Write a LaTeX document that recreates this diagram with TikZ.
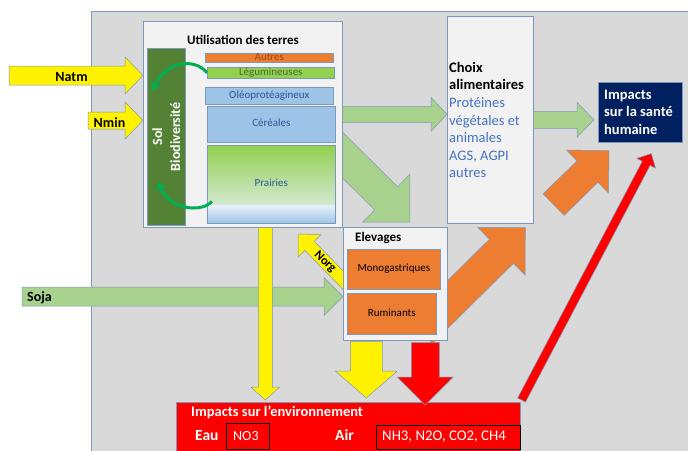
\documentclass[tikz,border=0pt]{standalone}
\usepackage{fontspec}
\setmainfont{Carlito}
\usepackage{tikz}
\usetikzlibrary{calc, arrows.meta}
\pgfdeclarelayer{fond}
\pgfdeclarelayer{dessous}
\pgfsetlayers{fond,dessous,main}

\definecolor{gris}{HTML}{D9D9D9}
\definecolor{cadre}{HTML}{7C98BA}
\definecolor{boite}{HTML}{F2F2F2}
\definecolor{sol}{HTML}{548235}
\definecolor{orangeo}{HTML}{ED7D31}
\definecolor{vertclair}{HTML}{92D050}
\definecolor{bleuclair}{HTML}{9DC3E6}
\definecolor{vertfleche}{HTML}{A9D18E}
\definecolor{marine}{HTML}{002060}
\definecolor{texteb}{HTML}{4472C4}
\definecolor{vertcourbe}{HTML}{00B050}
\definecolor{txtor}{HTML}{A0461A}
\definecolor{txtvert}{HTML}{4A6A3A}
\definecolor{txtbleu}{HTML}{2F5597}

\tikzset{
  case/.style={draw=cadre, line width=0.6pt, inner sep=0pt, anchor=north west},
  culture/.style={case, font=\fontsize{11}{12}\selectfont, text height=7pt, text depth=2pt},
  titre/.style={font=\fontsize{13}{15}\selectfont\bfseries, inner sep=0pt},
  etiq/.style={font=\fontsize{14}{16}\selectfont\bfseries, inner sep=0pt},
  texte/.style={font=\fontsize{14.5}{17.6}\selectfont, inner sep=0pt, align=left},
  fl/.style={draw=cadre, line width=0.5pt},
  jaune/.style={fl, fill=yellow},
  vertf/.style={fl, fill=vertfleche},
  orf/.style={fl, fill=orangeo},
  rougef/.style={fl, fill=red},
  courbe/.style={draw=vertcourbe, line width=3pt, -{Stealth[length=9pt, width=11pt]}}
}

% grosse fleche : [style]{depart}{pointe}{demi corps}{demi tete}{longueur tete}
\newcommand{\fleche}[6][]{%
  \coordinate (fq) at ($(#3)!#6!(#2)$);
  \draw[#1] ($(#2)!#4!90:(#3)$) -- ($(fq)!#4!90:(#3)$) -- ($(fq)!#5!90:(#3)$) -- (#3)
    -- ($(fq)!#5!-90:(#3)$) -- ($(fq)!#4!-90:(#3)$) -- ($(#2)!#4!-90:(#3)$) -- cycle;}

\begin{document}
\begin{tikzpicture}[x=1pt, y=-1pt]
 \useasboundingbox (0,0) rectangle (688,450);
 \begin{pgfonlayer}{fond}
  \fill[white] (0,0) rectangle (688,450);
  \draw[fill=gris, draw=cadre, line width=0.6pt] (91,11) rectangle (690,452);
 \end{pgfonlayer}

 % utilisation des terres
 \node[case, fill=boite, minimum width=199pt, minimum height=206pt] (util) at (143,21) {};
 \node[titre, anchor=base] (t-util) at (243,44) {Utilisation des terres};
 \node[case, fill=sol, minimum width=38pt, minimum height=177pt] (sol) at (147,48) {};
 \node[etiq, text=white, rotate=90, align=center, font=\fontsize{14}{18}\selectfont\bfseries] (t-sol) at (sol.center) {Sol\\Biodiversité};
 \node[culture, fill=orangeo, text=txtor, minimum width=128pt, minimum height=9pt] (autres) at (205,53) {Autres};
 \node[culture, fill=vertclair, text=txtvert, minimum width=127pt, minimum height=11pt] (legum) at (207,67) {Légumineuses};
 \node[culture, fill=bleuclair, text=txtbleu, minimum width=128pt, minimum height=17pt] (oleo) at (205,87) {Oléoprotéagineux};
 \node[culture, fill=bleuclair, text=txtbleu, minimum width=128pt, minimum height=36pt] (cereales) at (207,106) {Céréales};
 \node[culture, text=txtbleu, minimum width=128pt, minimum height=78pt,
   path picture={
     \shade[top color=vertclair, bottom color=white!75!bleuclair]
       (path picture bounding box.north west) rectangle ($(path picture bounding box.south east)+(0,-17)$);
     \shade[top color=white!75!bleuclair, bottom color=bleuclair]
       ($(path picture bounding box.south west)+(0,-17.5)$) rectangle (path picture bounding box.south east);
   }] (prairies) at (207,145) {Prairies};

 % choix et sante
 \node[case, fill=boite, minimum width=86pt, minimum height=207pt] (choix) at (447,16) {};
 \node[texte, anchor=west] (t-choix) at (449,120) {\textbf{Choix}\\\textbf{alimentaires}\\\textcolor{texteb}{Protéines}\\\textcolor{texteb}{végétales et}\\\textcolor{texteb}{animales}\\\textcolor{texteb}{AGS, AGPI}\\\textcolor{texteb}{autres}};
 \node[case, fill=marine, minimum width=84pt, minimum height=60pt] (sante) at (598,82) {};
 \node[texte, anchor=west, text=white, font=\fontsize{14.5}{17.5}\selectfont\bfseries] (t-sante) at (604,112) {Impacts\\sur la santé\\humaine};

 % elevages
 \node[case, fill=boite, minimum width=104pt, minimum height=113pt] (elev) at (343,227) {};
 \node[titre, anchor=base west] (t-elev) at (355,241) {Elevages};
 \node[culture, fill=orangeo, minimum width=93pt, minimum height=40pt] (mono) at (347,249) {Monogastriques};
 \node[culture, fill=orangeo, minimum width=89pt, minimum height=41pt] (rumi) at (347,293) {Ruminants};

 % impacts environnement
 \node[case, fill=red, minimum width=344pt, minimum height=50pt] (env) at (176,402) {};
 \node[titre, text=white, font=\fontsize{14.5}{16}\selectfont\bfseries, anchor=base west] (t-env) at (191,416) {Impacts sur l’environnement};
 \node[etiq, text=white, font=\fontsize{15.5}{17}\selectfont\bfseries, anchor=base west] (t-eau) at (195,440) {Eau};
 \node[draw=black, line width=0.6pt, inner sep=0pt, anchor=north west, minimum width=43pt, minimum height=26pt] (no3) at (226,423) {};
 \node[texte, text=white, font=\fontsize{14}{16}\selectfont, anchor=base west] (t-no3) at (233,440) {NO3};
 \node[etiq, text=white, font=\fontsize{15.5}{17}\selectfont\bfseries, anchor=base west] (t-air) at (335,440) {Air};
 \node[draw=black, line width=0.6pt, inner sep=0pt, anchor=north west, minimum width=144pt, minimum height=24pt] (nh3) at (376,425) {};
 \node[texte, text=white, font=\fontsize{14.8}{16}\selectfont, anchor=base west] (t-nh3) at (382,440) {NH3, N2O, CO2, CH4};

 % bouts des fleches
 \coordinate (natm-s) at (9,75.5);
 \coordinate (natm-f) at (util.west |- natm-s);
 \coordinate (nmin-s) at (88,120.5);
 \coordinate (nmin-f) at (util.west |- nmin-s);
 \coordinate (soja-s) at (22,296.5);
 \coordinate (soja-f) at (elev.west |- soja-s);
 \coordinate (terres-s) at ($(util.south)+(22.5,0)$);
 \coordinate (terres-f) at ($(terres-s |- env.north)+(0,-2)$);
 \coordinate (choix-s) at ($(util.east)+(0,-10)$);
 \coordinate (choix-f) at (choix.west |- choix-s);
 \coordinate (sante-f) at ($(sante.west |- choix.east)+(-4,0)$);
 \coordinate (elev-s) at ($(util.east)+(-22,9)$);
 \coordinate (elev-f) at ($(elev.north west)+(67,-5)$);
 \coordinate (anim-s) at ($(elev.east)+(-27,47.5)$);
 \coordinate (anim-f) at ($(choix.south)+(35,4)$);
 \coordinate (sant2-s) at ($(choix.south east)+(20,-19)$);
 \coordinate (sant2-f) at ($(sante.south west)+(11,8)$);
 \coordinate (norg-s) at ($(elev.west)+(7,3.5)$);
 \coordinate (norg-f) at ($(elev.north west)+(-45,7)$);
 \coordinate (jd-s) at ($(elev.south)+(-29,1)$);
 \coordinate (jd-f) at ($(env.north)+(18,-4)$);
 \coordinate (rd-s) at ($(elev.south)+(30,2)$);
 \coordinate (rd-f) at ($(env.north)+(77,3)$);
 \coordinate (rs-s) at ($(env.north east)+(1,-2)$);
 \coordinate (rs-f) at ($(sante.south)+(11,11)$);

 \begin{pgfonlayer}{dessous}
  \fleche[vertf]{elev-s}{elev-f}{16.3pt}{33.5pt}{33.6pt}
  \fleche[orf]{anim-s}{anim-f}{17pt}{33.6pt}{33.6pt}
  \fleche[jaune]{norg-s}{norg-f}{6.5pt}{16pt}{16.5pt}
 \end{pgfonlayer}

 \fleche[jaune]{natm-s}{natm-f}{9.5pt}{18.5pt}{18pt}
 \fleche[jaune]{nmin-s}{nmin-f}{8.5pt}{18.5pt}{18pt}
 \fleche[vertf]{soja-s}{soja-f}{9.5pt}{19pt}{19pt}
 \fleche[jaune]{terres-s}{terres-f}{7pt}{14.5pt}{13pt}
 \fleche[vertf]{choix-s}{choix-f}{8pt}{17pt}{16pt}
 \fleche[vertf]{choix.east}{sante-f}{8.5pt}{17.5pt}{17pt}
 \fleche[orf]{sant2-s}{sant2-f}{15pt}{30pt}{30pt}
 \fleche[jaune]{jd-s}{jd-f}{16pt}{31pt}{27pt}
 \fleche[rougef]{rd-s}{rd-f}{14pt}{28pt}{28pt}
 \fleche[rougef]{rs-s}{rs-f}{4.4pt}{10.5pt}{11pt}

 % fleches courbes
 \coordinate (sol-c1) at ($(sol.north)+(-14,43)$);
 \coordinate (c2-s) at ($(prairies.west)+(5,17)$);
 \coordinate (sol-c2) at ($(sol.south)+(-8,-44)$);
 \draw[courbe] (legum.west) .. controls +(-13,-16) and +(13,-29) .. (sol-c1);
 \draw[courbe] (c2-s) .. controls +(-10,12) and +(10,28) .. (sol-c2);

 \node[etiq, anchor=base] (t-natm) at (71.5,81) {Natm};
 \node[etiq, anchor=base] (t-nmin) at (109.5,127) {Nmin};
 \node[etiq, anchor=base west] (t-soja) at (27,301) {Soja};
 \node[etiq, font=\fontsize{12.5}{14}\selectfont\bfseries, rotate=-45] (t-norg) at (325,262) {Norg};
\end{tikzpicture}
\end{document}
